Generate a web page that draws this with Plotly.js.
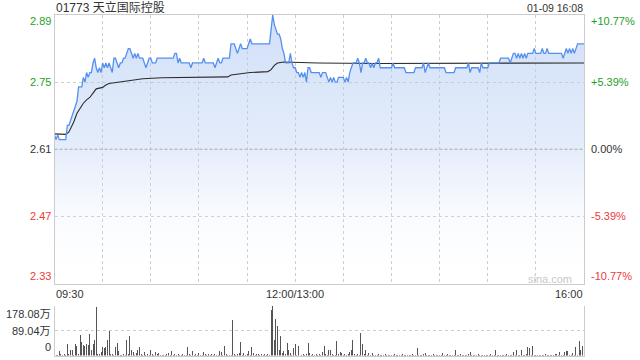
<!DOCTYPE html>
<html>
<head>
<meta charset="utf-8">
<script src="https://cdn.plot.ly/plotly-3.0.1.min.js"></script>
<style>html,body{margin:0;padding:0;background:#fff;}#chart{width:640px;height:360px;}</style>
</head>
<body>
<div id="chart"></div>
<script>
// ---- data ----
const stockTitle = '01773 天立国际控股';
const dateLabel = '01-09 16:08';
const prevClose = 2.61;
const priceTicks = [2.89, 2.75, 2.61, 2.47, 2.33];
const pctTicks = ['+10.77%', '+5.39%', '0.00%', '-5.39%', '-10.77%'];
const timeLabels = ['09:30', '12:00/13:00', '16:00'];
const timeLabelMinutes = [0, 150, 330];
const volTicks = [178.08, 89.04, 0];
const volTickLabels = ['178.08万', '89.04万', '0'];

// price per minute (minute 0 = 09:30, 150 = 12:00/13:00, 330 = 16:00)
const price = [
2.64,2.63,2.64,2.63,2.63,2.63,2.63,2.63,2.66,2.66,
2.67,2.68,2.69,2.70,2.71,2.74,2.74,2.74,2.76,2.75,
2.77,2.76,2.77,2.77,2.79,2.80,2.78,2.77,2.78,2.77,
2.79,2.78,2.79,2.78,2.79,2.78,2.77,2.80,2.80,2.79,
2.78,2.79,2.79,2.80,2.80,2.81,2.82,2.82,2.81,2.80,
2.81,2.80,2.81,2.80,2.80,2.80,2.79,2.78,2.79,2.80,
2.80,2.79,2.79,2.79,2.80,2.80,2.80,2.80,2.80,2.80,
2.80,2.80,2.80,2.80,2.80,2.81,2.81,2.79,2.80,2.79,
2.79,2.79,2.79,2.79,2.79,2.78,2.79,2.79,2.79,2.79,
2.79,2.79,2.79,2.80,2.79,2.79,2.79,2.79,2.79,2.79,
2.78,2.79,2.80,2.79,2.79,2.80,2.80,2.80,2.80,2.80,
2.83,2.83,2.83,2.82,2.81,2.82,2.83,2.82,2.82,2.82,
2.82,2.83,2.84,2.83,2.83,2.83,2.83,2.83,2.83,2.83,
2.83,2.83,2.83,2.83,2.83,2.86,2.89,2.87,2.86,2.85,
2.85,2.84,2.82,2.81,2.79,2.79,2.79,2.81,2.79,2.78,
2.78,2.77,2.77,2.76,2.77,2.76,2.77,2.75,2.78,2.78,
2.77,2.77,2.77,2.77,2.77,2.77,2.76,2.77,2.77,2.77,
2.76,2.75,2.76,2.75,2.76,2.75,2.75,2.76,2.76,2.76,
2.76,2.75,2.76,2.75,2.77,2.78,2.79,2.79,2.79,2.80,
2.79,2.77,2.79,2.79,2.80,2.79,2.79,2.78,2.79,2.78,
2.79,2.79,2.80,2.78,2.78,2.78,2.78,2.78,2.78,2.78,
2.78,2.79,2.78,2.78,2.78,2.78,2.78,2.78,2.78,2.77,
2.77,2.77,2.77,2.77,2.77,2.78,2.78,2.78,2.78,2.78,
2.79,2.77,2.78,2.79,2.78,2.78,2.78,2.78,2.78,2.78,
2.78,2.78,2.78,2.78,2.77,2.77,2.77,2.77,2.77,2.77,
2.78,2.78,2.78,2.78,2.78,2.78,2.78,2.78,2.79,2.77,
2.78,2.78,2.78,2.78,2.78,2.77,2.79,2.78,2.78,2.78,
2.78,2.79,2.79,2.79,2.79,2.79,2.79,2.79,2.80,2.80,
2.80,2.80,2.80,2.80,2.79,2.80,2.81,2.81,2.80,2.81,
2.80,2.81,2.80,2.81,2.80,2.81,2.81,2.81,2.81,2.82,
2.81,2.81,2.81,2.81,2.82,2.81,2.81,2.82,2.81,2.81,
2.81,2.81,2.81,2.81,2.81,2.81,2.81,2.80,2.81,2.82,
2.81,2.82,2.81,2.82,2.81,2.82,2.83,2.83,2.83,2.83,
2.83
];

const avgMinutes = [0,7,9,10,11,12,14,16,18,20,22,24,26,30,32,34,40,46,55,67,82,108,110,116,122,133,135,137,139,143,154,164,200,250,300,330];
const avgValues  = [2.642,2.641,2.646,2.653,2.660,2.667,2.685,2.697,2.706,2.713,2.718,2.727,2.736,2.739,2.744,2.747,2.750,2.754,2.757,2.759,2.760,2.761,2.765,2.768,2.770,2.772,2.776,2.785,2.790,2.792,2.791,2.790,2.789,2.789,2.789,2.790];

// volume per minute (万)
const volume = [
40,3,2,15,7,3,5,2,40,4,
21,19,3,40,33,4,73,48,37,33,
40,37,76,19,40,55,174,5,7,13,
31,25,29,55,87,7,7,3,31,43,
17,3,2,7,3,55,4,69,21,13,
3,10,19,29,7,2,13,3,7,2,
21,5,2,13,7,10,2,3,2,3,
7,10,2,17,3,5,2,7,3,2,
5,2,3,31,7,2,17,3,7,2,
10,2,3,13,7,2,7,3,7,2,
5,3,2,17,13,3,35,5,2,3,
2,127,5,3,7,10,49,3,10,2,
7,17,3,31,10,2,7,5,3,7,
2,7,3,5,2,163,178.08,55,130,105,
19,69,10,17,4,45,21,10,3,25,
40,3,33,61,3,7,2,7,43,10,
3,7,2,5,3,5,3,13,33,7,
3,21,19,7,3,3,51,7,13,10,
3,5,2,7,11,19,55,7,3,5,
3,79,40,5,21,3,10,3,10,2,
3,2,4,2,3,2,4,3,2,3,
2,3,4,2,3,2,3,4,2,3,
2,3,2,4,3,2,25,3,2,3,
4,10,2,3,2,3,7,2,3,2,
3,2,10,3,2,7,3,2,3,2,
19,3,2,4,3,2,3,2,4,13,
3,2,3,2,4,3,2,3,2,3,
2,3,4,2,3,19,3,2,3,2,
3,2,4,3,2,3,11,3,19,3,
2,19,3,2,4,31,27,3,33,2,
3,2,3,2,3,2,4,3,2,3,
2,3,4,7,3,13,2,3,11,15,
17,3,2,10,3,31,3,52,19,33,
15
];

// ---- build ----
const minutes = price.map((_, i) => i);
const volMinutes = volume.map((_, i) => i);
const yMin = prevClose * (1 - 0.1077);
const yMax = prevClose * (1 + 0.1077);

const GREEN = '#1fa01f', RED = '#f03a3a', DARK = '#333333', GRID = '#cccccc';
const FONT = 'Arial, "Liberation Sans", "Noto Sans CJK SC", sans-serif';

const traces = [
  { x: minutes, y: price, type: 'scatter', mode: 'lines', line: {width: 0, color: 'rgba(0,0,0,0)'},
    fill: 'tozeroy', fillcolor: 'rgba(214,226,248,0.75)',
    fillgradient: {type: 'vertical', start: yMin, stop: yMax,
      colorscale: [[0, 'rgba(255,255,255,0)'], [0.5, 'rgba(185,207,243,0.38)'], [1, 'rgba(180,203,243,0.62)']]},
    xaxis: 'x', yaxis: 'y', hoverinfo: 'skip' },
  { x: avgMinutes, y: avgValues, type: 'scatter', mode: 'lines', line: {width: 1.1, color: '#2b2b2b'},
    xaxis: 'x', yaxis: 'y' },
  { x: minutes, y: price, type: 'scatter', mode: 'lines', line: {width: 1.3, color: '#5590ee', shape: 'linear'},
    xaxis: 'x', yaxis: 'y' },
  { x: volMinutes, y: volume, type: 'bar', width: 0.62, marker: {color: '#555555', line: {width: 0}},
    xaxis: 'x2', yaxis: 'y2' }
];

const W = 640, H = 360;
const px = v => v / W, py = v => 1 - v / H;
const gridVals = [];
for (let m = 0; m <= 330; m += 30) gridVals.push(m);

const annotations = [];
priceTicks.forEach((t, i) => {
  const col = t > prevClose ? GREEN : (t < prevClose ? RED : DARK);
  const anchor = i === 0 ? 'top' : (i === priceTicks.length - 1 ? 'bottom' : 'middle');
  const shift = i === 0 ? 2 : (i === priceTicks.length - 1 ? -1 : 0);
  annotations.push({xref: 'paper', yref: 'y', x: px(53), y: t, xanchor: 'right', yanchor: anchor, yshift: shift,
    text: t.toFixed(2), showarrow: false, font: {family: FONT, size: 11, color: col}});
  annotations.push({xref: 'paper', yref: 'y', x: px(589), y: t, xanchor: 'left', yanchor: anchor, yshift: shift,
    text: pctTicks[i], showarrow: false, font: {family: FONT, size: 11, color: col}});
});
timeLabels.forEach((t, i) => {
  const m = timeLabelMinutes[i];
  const anchor = i === 0 ? 'left' : (i === timeLabels.length - 1 ? 'right' : 'center');
  annotations.push({xref: 'x', yref: 'paper', x: m, y: py(293.5), xanchor: anchor, yanchor: 'middle',
    xshift: i === 0 ? -1 : (i === timeLabels.length - 1 ? 1 : 0),
    text: t, showarrow: false, font: {family: FONT, size: 11, color: DARK}});
});
volTicks.forEach((v, i) => {
  const anchor = i === 0 ? 'top' : (i === volTicks.length - 1 ? 'bottom' : 'middle');
  annotations.push({xref: 'paper', yref: 'y2', x: px(53), y: v, xanchor: 'right', yanchor: anchor,
    yshift: i === volTicks.length - 1 ? 1 : 0,
    text: volTickLabels[i], showarrow: false, font: {family: FONT, size: 11, color: DARK}});
});
annotations.push({xref: 'paper', yref: 'paper', x: px(54), y: py(7.5), xanchor: 'left', yanchor: 'middle',
  text: stockTitle, showarrow: false, font: {family: FONT, size: 12, color: DARK}});
annotations.push({xref: 'paper', yref: 'paper', x: px(585), y: py(7.5), xanchor: 'right', yanchor: 'middle',
  text: dateLabel, showarrow: false, font: {family: FONT, size: 10.5, color: DARK}});
annotations.push({xref: 'paper', yref: 'paper', x: px(574), y: py(279), xanchor: 'right', yanchor: 'middle',
  text: 'sina.com', showarrow: false, font: {family: FONT, size: 11, color: '#c9c9c9'}});

const layout = {
  width: W, height: H,
  margin: {l: 0, r: 0, t: 0, b: 0, pad: 0},
  paper_bgcolor: '#ffffff', plot_bgcolor: 'rgba(0,0,0,0)',
  showlegend: false,
  xaxis: {domain: [px(54.5), px(584)], range: [0, 330], anchor: 'y',
    tickvals: gridVals, showticklabels: false, ticks: '',
    showgrid: true, gridcolor: GRID, griddash: 'dot', gridwidth: 1,
    showline: true, mirror: true, linecolor: GRID, linewidth: 1, zeroline: false},
  yaxis: {domain: [py(284), py(14.5)], range: [yMin, yMax], anchor: 'x',
    tickvals: [2.47, 2.75], showticklabels: false, ticks: '',
    showgrid: true, gridcolor: GRID, griddash: 'dot', gridwidth: 1,
    showline: true, mirror: true, linecolor: GRID, linewidth: 1, zeroline: false},
  xaxis2: {domain: [px(54.5), px(584)], range: [0, 330], anchor: 'y2', matches: 'x',
    showticklabels: false, ticks: '', showgrid: false, zeroline: false,
    showline: true, linecolor: GRID, linewidth: 1},
  yaxis2: {domain: [py(355.5), py(305.5)], range: [0, 178.08], anchor: 'x2',
    tickvals: [89.04, 178.08], showticklabels: false, ticks: '',
    showgrid: true, gridcolor: GRID, griddash: 'dot', gridwidth: 1,
    showline: true, mirror: true, linecolor: GRID, linewidth: 1, zeroline: false},
  shapes: [
    {type: 'line', xref: 'x', yref: 'y', x0: 0, x1: 330, y0: prevClose, y1: prevClose,
     line: {color: '#aaaaaa', width: 1, dash: '3px,2px'}}
  ],
  annotations: annotations,
  bargap: 0
};

Plotly.newPlot('chart', traces, layout, {staticPlot: true, displayModeBar: false});
</script>
</body>
</html>
